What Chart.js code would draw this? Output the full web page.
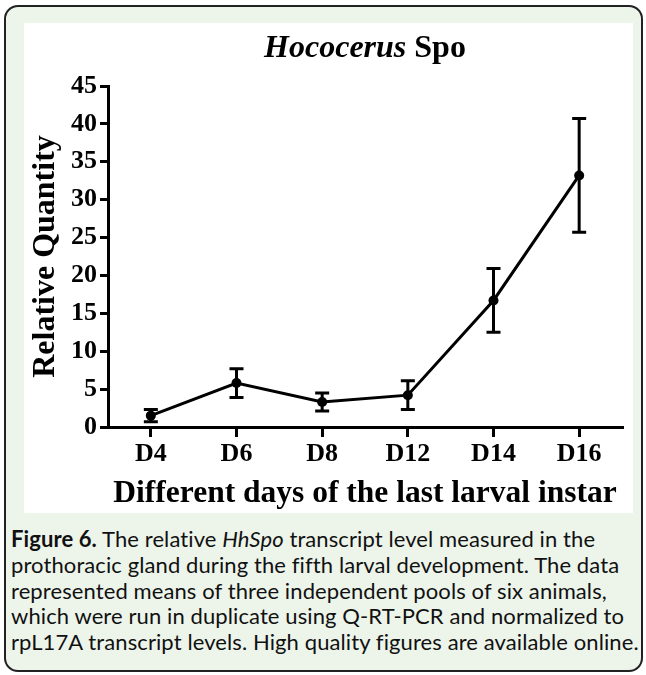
<!DOCTYPE html>
<html>
<head>
<meta charset="utf-8">
<title>Hococerus Spo</title>
<script src="https://cdn.jsdelivr.net/npm/chart.js@4"></script>
<style>
  body { margin: 0; background: #fff; width: 646px; height: 675px; position: relative; overflow: hidden; }
  .frame {
    position: absolute; left: 4px; top: 5px; width: 635px; height: 663px;
    border: 2px solid #222; border-radius: 14px; background: #edf5eb;
  }
  .figure { position: absolute; left: 24px; top: 23px; width: 609px; height: 490px; background: #fff; }
  .figure canvas { position: absolute; left: 0; top: 0; }
  .chart-title {
    position: absolute; left: 84px; top: 7px; width: 514px; text-align: center;
    font: bold 32px/32px 'Liberation Serif', 'Times New Roman', serif; color: #000;
  }
  .caption {
    position: absolute; left: 11px; top: 526px; white-space: nowrap;
    font-family: Lato, 'Noto Sans', sans-serif; font-size: 22px; letter-spacing: 0.1px;
    line-height: 25.8px; color: #111;
  }
</style>
</head>
<body>
<div class="frame"></div>
<div class="figure">
  <canvas id="spoChart" width="609" height="490"></canvas>
  <div class="chart-title"><i>Hococerus</i> Spo</div>
</div>
<div class="caption">
  <b>Figure 6.</b> The relative <i>HhSpo</i> transcript level measured in the<br>
  prothoracic gland during the fifth larval development. The data<br>
  represented means of three independent pools of six animals,<br>
  which were run in duplicate using Q-RT-PCR and normalized to<br>
  rpL17A transcript levels. High quality figures are available online.
</div>
<script>
const days = ['D4', 'D6', 'D8', 'D12', 'D14', 'D16'];
const meanQty = [1.5, 5.8, 3.3, 4.2, 16.7, 33.2];
const semErr = [0.8, 1.9, 1.2, 1.9, 4.2, 7.5];
const yMin = 0;
const yMax = 45;
const yStep = 5;

const serif = "'Liberation Serif', 'Times New Roman', serif";

// vertical error bars with caps, placed through the y scale
const errorBars = {
  id: 'errorBars',
  afterDatasetsDraw(chart) {
    const ctx = chart.ctx;
    const y = chart.scales.y;
    const meta = chart.getDatasetMeta(0);
    ctx.save();
    ctx.strokeStyle = '#000';
    ctx.lineWidth = 3;
    meta.data.forEach((pt, i) => {
      const top = y.getPixelForValue(meanQty[i] + semErr[i]);
      const bot = y.getPixelForValue(meanQty[i] - semErr[i]);
      ctx.beginPath();
      ctx.moveTo(pt.x, top);
      ctx.lineTo(pt.x, bot);
      ctx.moveTo(pt.x - 7, top);
      ctx.lineTo(pt.x + 7, top);
      ctx.moveTo(pt.x - 7, bot);
      ctx.lineTo(pt.x + 7, bot);
      ctx.stroke();
    });
    ctx.restore();
  }
};

new Chart(document.getElementById('spoChart'), {
  type: 'line',
  data: {
    labels: days,
    datasets: [{
      data: meanQty,
      borderColor: '#000',
      borderWidth: 3,
      pointRadius: 5,
      pointBackgroundColor: '#000',
      pointBorderWidth: 0,
      tension: 0
    }]
  },
  options: {
    responsive: false,
    animation: false,
    devicePixelRatio: 1,
    layout: { padding: { top: 63, right: 11, left: 0, bottom: 0 } },
    plugins: {
      legend: { display: false },
      tooltip: { enabled: false }
    },
    scales: {
      x: {
        offset: true,
        border: { display: true, color: '#000', width: 3 },
        grid: { drawOnChartArea: false, drawTicks: true, tickLength: 10, lineWidth: 3, color: '#000' },
        ticks: { color: '#000', padding: 2, font: { family: serif, size: 26, weight: 'bold' } },
        title: {
          display: true, text: 'Different days of the last larval instar', color: '#000',
          font: { family: serif, size: 31.5, weight: 'bold' }, padding: { top: 3, bottom: 0 }
        },
        afterFit(scale) { scale.height = 86; }
      },
      y: {
        min: yMin,
        max: yMax,
        border: { display: true, color: '#000', width: 3 },
        grid: { drawOnChartArea: false, drawTicks: true, tickLength: 8, lineWidth: 3, color: '#000' },
        ticks: { stepSize: yStep, color: '#000', padding: 3, font: { family: serif, size: 26, weight: 'bold' } },
        title: {
          display: true, text: 'Relative Quantity', color: '#000',
          font: { family: serif, size: 32, weight: 'bold' }, padding: { top: 3, bottom: 0 }
        },
        afterFit(scale) { scale.width = 84; }
      }
    }
  },
  plugins: [errorBars]
});
</script>
</body>
</html>
